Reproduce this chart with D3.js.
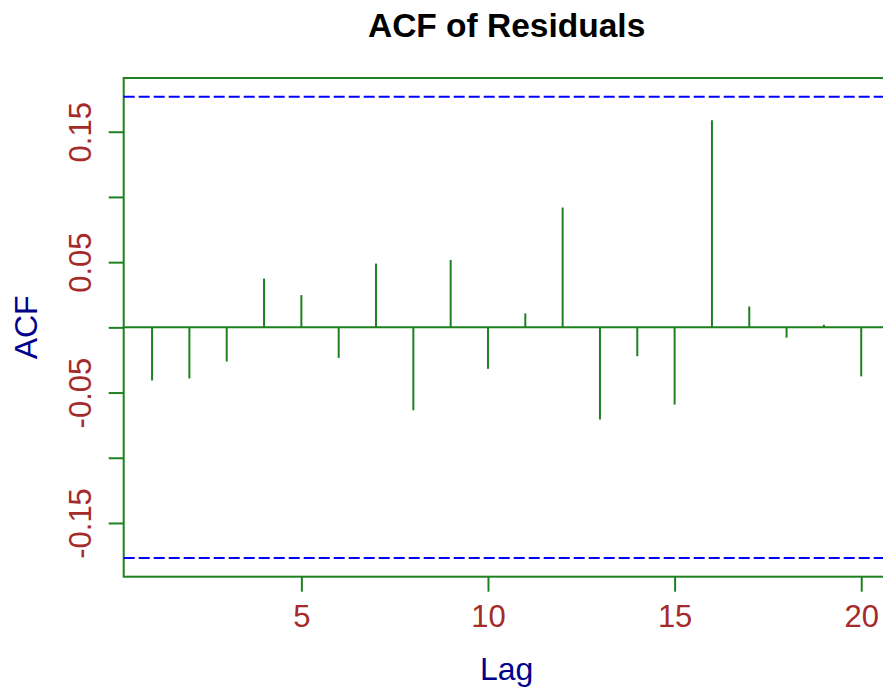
<!DOCTYPE html>
<html>
<head>
<meta charset="utf-8">
<script src="https://cdn.jsdelivr.net/npm/d3@7"></script>
<style>
  html, body { margin: 0; padding: 0; background: #fff; overflow: hidden; }
  svg { display: block; }
</style>
</head>
<body>
<svg id="chart" width="883" height="691"></svg>
<script>
const lags = [1,2,3,4,5,6,7,8,9,10,11,12,13,14,15,16,17,18,19,20];
const acfValues = [-0.0407, -0.0392, -0.0262, 0.0374, 0.0247, -0.0234, 0.0489, -0.0636, 0.0517, -0.0318,
                   0.0107, 0.0919, -0.0707, -0.0221, -0.0592, 0.1588, 0.0160, -0.0079, 0.0020, -0.0376];
const confLimit = 0.1769;
const xTicks = [5, 10, 15, 20];
const yTicks = [-0.15, -0.10, -0.05, 0, 0.05, 0.10, 0.15];
const yTickLabels = ["-0.15", "", "-0.05", "", "0.05", "", "0.15"];
const titleText = "ACF of Residuals";
const xLabel = "Lag";
const yLabel = "ACF";

const green = "#1F801F";
const font = "'Liberation Sans', Arial, sans-serif";

const svg = d3.select("#chart");
const pLeft = 123.7, pRight = 889.6, pTop = 78, pBottom = 576.7;

const x = d3.scaleLinear().domain([0.24, 20.76]).range([pLeft, pRight]);
const y = d3.scaleLinear().domain([-0.1912, 0.1912]).range([pBottom, pTop]);

// box
svg.append("rect")
  .attr("x", pLeft).attr("y", pTop)
  .attr("width", pRight - pLeft).attr("height", pBottom - pTop)
  .attr("fill", "none").attr("stroke", green).attr("stroke-width", 2);

// zero line
svg.append("line")
  .attr("x1", pLeft).attr("x2", pRight)
  .attr("y1", y(0)).attr("y2", y(0))
  .attr("stroke", green).attr("stroke-width", 2);

// confidence lines
svg.selectAll("line.clim").data([confLimit, -confLimit]).enter().append("line")
  .attr("class", "clim")
  .attr("x1", pLeft).attr("x2", pRight)
  .attr("y1", d => y(d)).attr("y2", d => y(d))
  .attr("stroke", "#0000FF").attr("stroke-width", 2)
  .attr("stroke-dasharray", "11,4");

// stems
svg.selectAll("line.stem").data(lags).enter().append("line")
  .attr("class", "stem")
  .attr("x1", d => x(d)).attr("x2", d => x(d))
  .attr("y1", y(0)).attr("y2", (d, i) => y(acfValues[i]))
  .attr("stroke", green).attr("stroke-width", 2);

// x axis
const xAxis = svg.append("g")
  .attr("transform", `translate(0,${pBottom})`)
  .call(d3.axisBottom(x).tickValues(xTicks).tickSize(15).tickPadding(13).tickFormat(d3.format("d")));
xAxis.select(".domain").remove();
xAxis.selectAll(".tick line").attr("stroke", green).attr("stroke-width", 2);
xAxis.selectAll(".tick text")
  .attr("fill", "#A52A2A").style("font-family", font).style("font-size", "31px");

// y axis
const yAxis = svg.append("g")
  .attr("transform", `translate(${pLeft},0)`)
  .call(d3.axisLeft(y).tickValues(yTicks).tickSize(15).tickFormat((d, i) => yTickLabels[i]));
yAxis.select(".domain").remove();
yAxis.selectAll(".tick line").attr("stroke", green).attr("stroke-width", 2);
yAxis.selectAll(".tick text")
  .attr("fill", "#A52A2A")
  .style("font-family", font).style("font-size", "31px")
  .attr("x", 0).attr("dy", null)
  .attr("text-anchor", "middle")
  .attr("transform", "translate(-33,0) rotate(-90)");

// title
svg.append("text")
  .attr("x", (pLeft + pRight) / 2).attr("y", 37)
  .attr("text-anchor", "middle")
  .style("font-family", font).style("font-size", "33.5px").style("font-weight", "bold")
  .attr("fill", "#000")
  .text(titleText);

// x label
svg.append("text")
  .attr("x", (pLeft + pRight) / 2).attr("y", 680)
  .attr("text-anchor", "middle")
  .style("font-family", font).style("font-size", "32px")
  .attr("fill", "#00008B")
  .text(xLabel);

// y label
svg.append("text")
  .attr("transform", `translate(37,${(pTop + pBottom) / 2}) rotate(-90)`)
  .attr("text-anchor", "middle")
  .style("font-family", font).style("font-size", "32px")
  .attr("fill", "#00008B")
  .text(yLabel);
</script>
</body>
</html>
